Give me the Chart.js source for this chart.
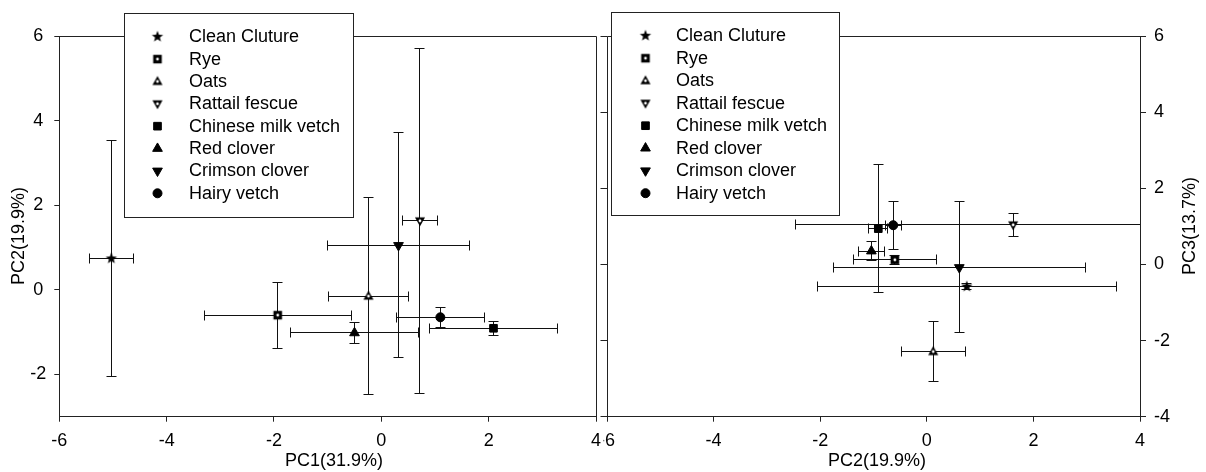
<!DOCTYPE html>
<html>
<head>
<meta charset="utf-8">
<title>PCA scores by cover crop</title>
<script src="https://cdn.jsdelivr.net/npm/chart.js@4.4.1/dist/chart.umd.min.js"></script>
<style>
  html, body { margin: 0; padding: 0; background: #fff; }
  #wrap { position: relative; width: 1206px; height: 472px; overflow: hidden; }
  #wrap canvas { position: absolute; top: 0; }
  #pc12 { left: 0; z-index: 2; }
  #pc23 { left: 590px; z-index: 1; }
</style>
</head>
<body>
<div id="wrap">
  <canvas id="pc12" width="620" height="472"></canvas>
  <canvas id="pc23" width="616" height="472"></canvas>
</div>
<script>
// treatments, same order in both panels
const treatments = ['Clean Cluture', 'Rye', 'Oats', 'Rattail fescue',
	'Chinese milk vetch', 'Red clover', 'Crimson clover', 'Hairy vetch'];

// left panel: PC1 vs PC2 (mean and +/- error)
const pc1 = [-5.03, -1.93, -0.24, 0.72, 2.09, -0.50, 0.32, 1.10];
const pc1Err = [0.41, 1.37, 0.75, 0.32, 1.20, 1.20, 1.32, 0.82];
const pc2 = [0.74, -0.60, -0.15, 1.63, -0.91, -1.02, 1.05, -0.65];
const pc2Err = [2.80, 0.78, 2.33, 4.08, 0.17, 0.24, 2.66, 0.23];

// right panel: PC2 vs PC3
const pc2b = [0.75, -0.60, 0.12, 1.62, -0.91, -1.04, 0.61, -0.63];
const pc2bErr = [2.80, 0.78, 0.60, 4.08, 0.18, 0.25, 2.36, 0.15];
const pc3 = [-0.58, 0.12, -2.29, 1.04, 0.94, 0.35, -0.08, 1.03];
const pc3Err = [0.09, 0.12, 0.78, 0.31, 1.68, 0.24, 1.72, 0.63];

// axis ranges and ticks
const xMin = -6, xMax = 4;
const yMinLeft = -3, yMaxLeft = 6;
const yMinRight = -4, yMaxRight = 6;
const tickStep = 2;

const FONT = '"Liberation Sans", Arial, sans-serif';
const LINE = '#222';

Chart.defaults.font.family = FONT;
Chart.defaults.font.size = 18;
Chart.defaults.color = '#000';

// small canvas markers for the shapes chart.js does not have
// (filled star, and black shapes with a white centre dot)
function markerImage(shape) {
	const size = 16, c0 = size / 2;
	const c = document.createElement('canvas');
	c.width = c.height = size;
	const g = c.getContext('2d');
	g.fillStyle = '#000';
	g.beginPath();
	if (shape === 'star') {
		for (let k = 0; k < 10; k++) {
			const r = k % 2 ? 2.5 : 6;
			const a = -Math.PI / 2 + k * Math.PI / 5;
			g.lineTo(c0 + r * Math.cos(a), c0 + r * Math.sin(a));
		}
	} else if (shape === 'square') {
		g.rect(c0 - 4.3, c0 - 4.3, 8.6, 8.6);
	} else if (shape === 'up') {
		g.moveTo(c0, c0 - 5.4);
		g.lineTo(c0 + 5, c0 + 3.6);
		g.lineTo(c0 - 5, c0 + 3.6);
	} else {
		g.moveTo(c0, c0 + 5.4);
		g.lineTo(c0 + 5, c0 - 3.6);
		g.lineTo(c0 - 5, c0 - 3.6);
	}
	g.closePath();
	g.fill();
	if (shape !== 'star') {
		g.fillStyle = '#fff';
		g.beginPath();
		g.arc(c0, c0, 1.4, 0, Math.PI * 2);
		g.fill();
	}
	return c;
}

const markerStyles = [
	{ pointStyle: markerImage('star'), pointRadius: 5, pointBackgroundColor: '#000', pointBorderColor: '#000', pointBorderWidth: 0 },
	{ pointStyle: markerImage('square'), pointRadius: 5, pointBackgroundColor: '#000', pointBorderColor: '#000', pointBorderWidth: 0 },
	{ pointStyle: markerImage('up'), pointRadius: 5, pointBackgroundColor: '#000', pointBorderColor: '#000', pointBorderWidth: 0 },
	{ pointStyle: markerImage('down'), pointRadius: 5, pointBackgroundColor: '#000', pointBorderColor: '#000', pointBorderWidth: 0 },
	{ pointStyle: 'rect', pointRadius: 5.4, pointBackgroundColor: '#000', pointBorderColor: '#000', pointBorderWidth: 1 },
	{ pointStyle: 'triangle', pointRadius: 5.6, pointBackgroundColor: '#000', pointBorderColor: '#000', pointBorderWidth: 1 },
	{ pointStyle: 'triangle', pointRotation: 180, pointRadius: 5.6, pointBackgroundColor: '#000', pointBorderColor: '#000', pointBorderWidth: 1 },
	{ pointStyle: 'circle', pointRadius: 4.5, pointBackgroundColor: '#000', pointBorderColor: '#000', pointBorderWidth: 1 },
];

function buildDatasets(xs, xErrs, ys, yErrs) {
	return treatments.map((name, i) => ({
		label: name,
		data: [{ x: xs[i], y: ys[i] }],
		errX: xErrs[i],
		errY: yErrs[i],
		showLine: false,
		pointHoverRadius: markerStyles[i].pointRadius,
		...markerStyles[i],
	}));
}

const crisp = (v) => Math.round(v - 0.5) + 0.5;

// error bars under the markers, clipped to the plot area
const errorBars = {
	id: 'errorBars',
	beforeDatasetsDraw(chart) {
		const { ctx, chartArea: a, scales: { x, y } } = chart;
		const cap = 5;
		ctx.save();
		ctx.beginPath();
		ctx.rect(a.left, a.top, a.right - a.left, a.bottom - a.top);
		ctx.clip();
		ctx.strokeStyle = '#111';
		ctx.lineWidth = 1;
		chart.data.datasets.forEach((ds) => {
			ds.data.forEach((p) => {
				const cx = crisp(x.getPixelForValue(p.x));
				const cy = crisp(y.getPixelForValue(p.y));
				const x0 = crisp(x.getPixelForValue(p.x - ds.errX));
				const x1 = crisp(x.getPixelForValue(p.x + ds.errX));
				const y0 = crisp(y.getPixelForValue(p.y - ds.errY));
				const y1 = crisp(y.getPixelForValue(p.y + ds.errY));
				ctx.beginPath();
				ctx.moveTo(x0, cy); ctx.lineTo(x1, cy);
				ctx.moveTo(x0, cy - cap); ctx.lineTo(x0, cy + cap);
				ctx.moveTo(x1, cy - cap); ctx.lineTo(x1, cy + cap);
				ctx.moveTo(cx, y0); ctx.lineTo(cx, y1);
				ctx.moveTo(cx - cap, y0); ctx.lineTo(cx + cap, y0);
				ctx.moveTo(cx - cap, y1); ctx.lineTo(cx + cap, y1);
				ctx.stroke();
			});
		});
		ctx.restore();
	},
};

// frame, axis titles and boxed legend
const panelDecor = {
	id: 'panelDecor',
	beforeDraw(chart, args, opts) {
		// left panel is opaque behind its last tick label (hides the neighbour's minus sign)
		if (!opts.maskLabel) return;
		const m = opts.maskLabel;
		chart.ctx.save();
		chart.ctx.fillStyle = '#fff';
		chart.ctx.fillRect(m.x, m.y, m.w, m.h);
		chart.ctx.restore();
	},
	afterDraw(chart, args, opts) {
		const { ctx, chartArea: a, scales: { y } } = chart;
		ctx.save();
		ctx.strokeStyle = LINE;
		ctx.lineWidth = 1;
		ctx.beginPath();
		ctx.moveTo(crisp(a.left), crisp(a.top));
		ctx.lineTo(crisp(a.right), crisp(a.top));
		const side = opts.frameSide === 'left' ? a.left : a.right;
		ctx.moveTo(crisp(side), crisp(a.top));
		ctx.lineTo(crisp(side), crisp(a.bottom));
		if (opts.mirrorTicks) {
			y.ticks.forEach((t) => {
				const py = crisp(y.getPixelForValue(t.value));
				ctx.moveTo(crisp(a.left) - opts.mirrorTicks, py);
				ctx.lineTo(crisp(a.left), py);
			});
		}
		ctx.stroke();

		// axis titles
		ctx.fillStyle = '#000';
		ctx.font = '18px ' + FONT;
		ctx.textAlign = 'center';
		ctx.textBaseline = 'middle';
		ctx.fillText(opts.xTitle.text, opts.xTitle.x, opts.xTitle.y);
		ctx.save();
		ctx.translate(opts.yTitle.x, opts.yTitle.y);
		ctx.rotate(-Math.PI / 2);
		ctx.fillText(opts.yTitle.text, 0, 0);
		ctx.restore();

		// legend
		const L = opts.legend;
		ctx.fillStyle = '#fff';
		ctx.fillRect(L.x, L.y, L.w, L.h);
		ctx.strokeStyle = LINE;
		ctx.lineWidth = 1;
		ctx.strokeRect(crisp(L.x), crisp(L.y), Math.round(L.w), Math.round(L.h));
		chart.data.datasets.forEach((ds, i) => {
			const ry = L.firstRow + i * L.rowGap;
			ctx.fillStyle = ds.pointBackgroundColor;
			ctx.strokeStyle = ds.pointBorderColor;
			ctx.lineWidth = ds.pointBorderWidth;
			Chart.helpers.drawPoint(ctx, {
				pointStyle: ds.pointStyle,
				rotation: ds.pointRotation || 0,
				radius: ds.pointRadius,
				borderWidth: ds.pointBorderWidth,
			}, L.markerX, ry);
			ctx.fillStyle = '#000';
			ctx.textAlign = 'left';
			ctx.fillText(ds.label, L.textX, ry + 0.5);
		});
		ctx.restore();
	},
};

function axisX() {
	return {
		type: 'linear',
		position: 'bottom',
		min: xMin,
		max: xMax,
		ticks: { stepSize: tickStep, padding: 9, color: '#000' },
		grid: { drawOnChartArea: false, tickLength: 5, color: LINE },
		border: { color: LINE, width: 1 },
		afterFit(s) { s.height = 55.3; },
	};
}

new Chart(document.getElementById('pc12'), {
	type: 'scatter',
	data: { datasets: buildDatasets(pc1, pc1Err, pc2, pc2Err) },
	plugins: [errorBars, panelDecor],
	options: {
		responsive: false,
		animation: false,
		layout: { padding: { left: 0, right: 24, top: 36, bottom: 0 } },
		scales: {
			x: axisX(),
			y: {
				type: 'linear',
				position: 'left',
				min: yMinLeft,
				max: yMaxLeft,
				ticks: { stepSize: tickStep, padding: 8, crossAlign: 'center', color: '#000' },
				grid: { drawOnChartArea: false, tickLength: 5, color: LINE },
				border: { color: LINE, width: 1 },
				afterBuildTicks(s) { s.ticks = s.ticks.filter((t) => t.value % 2 === 0); },
				afterFit(s) { s.width = 59.3; },
			},
		},
		plugins: {
			legend: { display: false },
			tooltip: { enabled: false },
			panelDecor: {
				frameSide: 'right',
				mirrorTicks: 0,
				maskLabel: { x: 595, y: 430, w: 8.5, h: 24 },
				xTitle: { text: 'PC1(31.9%)', x: 334, y: 461 },
				yTitle: { text: 'PC2(19.9%)', x: 19.5, y: 236 },
				legend: { x: 124, y: 13.3, w: 229, h: 203.7, markerX: 157.5, textX: 189, firstRow: 36.7, rowGap: 22.37 },
			},
		},
	},
});

new Chart(document.getElementById('pc23'), {
	type: 'scatter',
	data: { datasets: buildDatasets(pc2b, pc2bErr, pc3, pc3Err) },
	plugins: [errorBars, panelDecor],
	options: {
		responsive: false,
		animation: false,
		layout: { padding: { left: 14, right: 0, top: 36, bottom: 0 } },
		scales: {
			x: axisX(),
			y: {
				type: 'linear',
				position: 'right',
				min: yMinRight,
				max: yMaxRight,
				ticks: { stepSize: tickStep, padding: 8, color: '#000' },
				grid: { drawOnChartArea: false, tickLength: 6, color: LINE },
				border: { color: LINE, width: 1 },
				afterFit(s) { s.width = 66; },
			},
		},
		plugins: {
			legend: { display: false },
			tooltip: { enabled: false },
			panelDecor: {
				frameSide: 'left',
				mirrorTicks: 7,
				xTitle: { text: 'PC2(19.9%)', x: 287, y: 461 },
				yTitle: { text: 'PC3(13.7%)', x: 600, y: 226 },
				legend: { x: 21.6, y: 12.7, w: 228.3, h: 203.3, markerX: 55.5, textX: 86, firstRow: 35.7, rowGap: 22.5 },
			},
		},
	},
});
</script>
</body>
</html>
